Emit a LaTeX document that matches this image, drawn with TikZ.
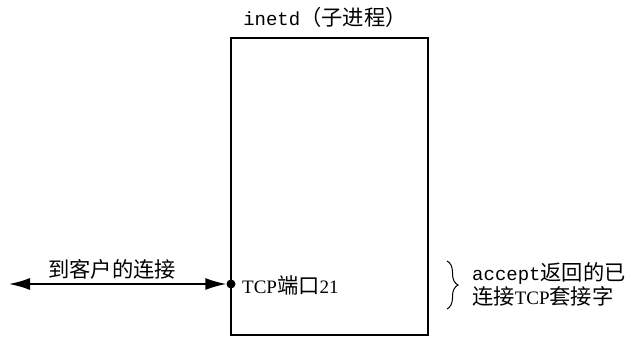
\documentclass[tikz,border=0pt]{standalone}
\usepackage{fontspec}
\setmainfont{Liberation Serif}
\setmonofont{Liberation Mono}
\newfontfamily\cjk[Scale=1.12]{Noto Sans CJK SC}
\usepackage{tikz}
\usetikzlibrary{arrows.meta,positioning,decorations.pathreplacing}

\begin{document}
\begin{tikzpicture}[
    x=1pt, y=1pt,
    procbox/.style={rectangle, draw=black, line width=1.2pt, minimum width=197pt,
                    minimum height=297pt, inner sep=0pt},
    portdot/.style={circle, fill=black, minimum size=9pt, inner sep=0pt},
    conn/.style={{Latex[length=21pt,width=12pt]}-{Latex[length=21pt,width=12pt]}, line width=1.6pt},
    label/.style={font=\fontsize{19}{24}\selectfont, inner sep=0pt},
    brace/.style={decorate, decoration={brace, amplitude=11pt}, line width=1pt}
]
    \useasboundingbox (0,0) rectangle (635,339);

    \node[procbox] (child) at (329.5, 152.5) {};
    \node[label] (title) at (325, 322) {\ttfamily inetd{\cjk（子进程）}};

    \node[portdot] (port) at (231, 55) {};
    \coordinate (client) at (9, 55);
    \draw[conn] (client) -- (port);
    \node[label] (connlbl) at (112, 70) {\cjk 到客户的连接};
    \node[label, anchor=west] (portlbl) at (242, 54) {TCP{\cjk 端口}21};

    % connected socket returned by accept
    \coordinate (btop) at (447, 78);
    \coordinate (bbot) at (447, 30);
    \draw[brace] (btop) -- (bbot);
    \node[label, anchor=west, align=left] (socklbl) at (472, 55)
        {\texttt{accept}{\cjk 返回的已}\\{\cjk 连接}TCP{\cjk 套接字}};
\end{tikzpicture}
\end{document}
